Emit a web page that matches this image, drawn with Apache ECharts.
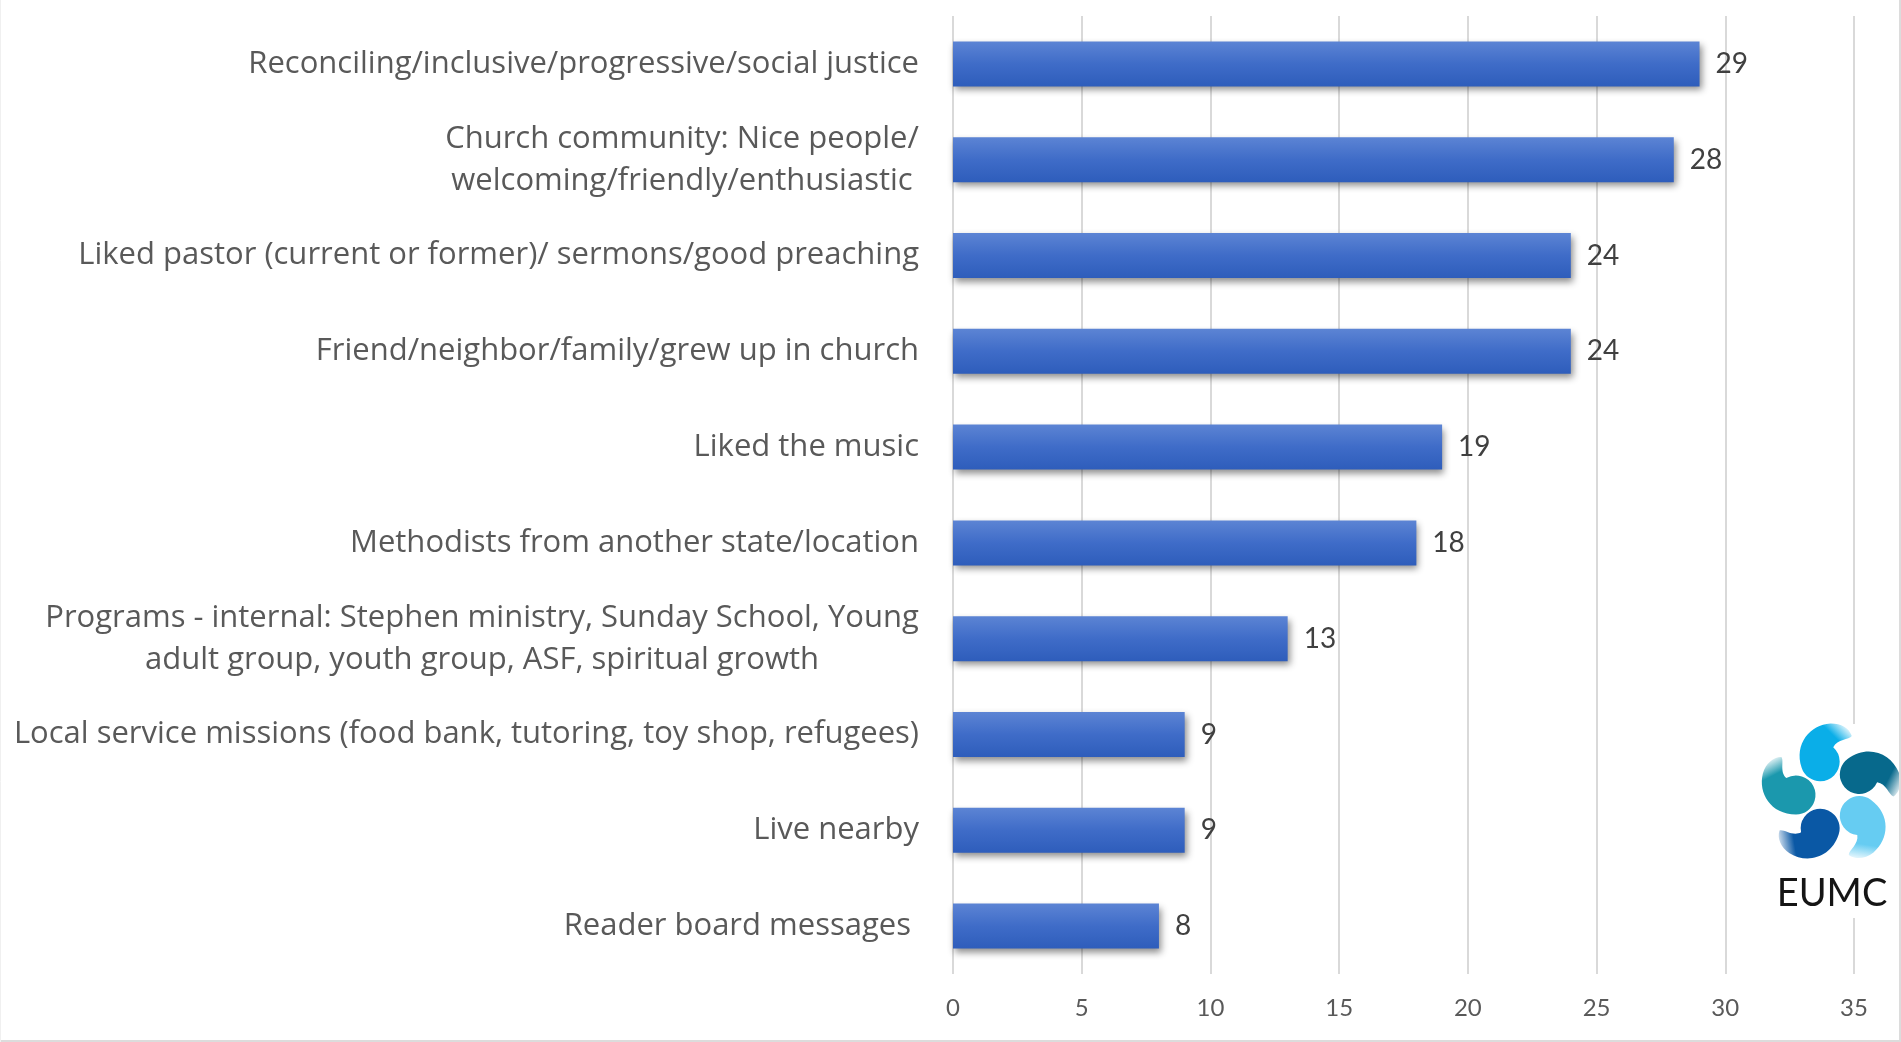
<!DOCTYPE html>
<html>
<head>
<meta charset="utf-8">
<script src="https://cdn.jsdelivr.net/npm/echarts@6/dist/echarts.min.js"></script>
<style>
html,body{margin:0;padding:0;background:#fff;}
#chart{width:1901px;height:1042px;}
</style>
</head>
<body>
<div id="chart"></div>
<script>
const categories = [
  "Reconciling/inclusive/progressive/social justice",
  "Church community: Nice people/\nwelcoming/friendly/enthusiastic",
  "Liked pastor (current or former)/ sermons/good preaching",
  "Friend/neighbor/family/grew up in church",
  "Liked the music",
  "Methodists from another state/location",
  "Programs - internal: Stephen ministry, Sunday School, Young\nadult group, youth group, ASF, spiritual growth",
  "Local service missions (food bank, tutoring, toy shop, refugees)",
  "Live nearby",
  "Reader board messages "
];
const values = [29, 28, 24, 24, 19, 18, 13, 9, 9, 8];
const xTicks = [0, 5, 10, 15, 20, 25, 30, 35];

const FONT = 'Lato';
const CAT_FONT = 'Open Sans';
const catSize = 31;

// measure for centered multi-line labels
const cv = document.createElement('canvas').getContext('2d');
cv.font = catSize + 'px "' + CAT_FONT + '"';
const rich = {};
categories.forEach((c, i) => {
  if (c.indexOf('\n') >= 0) {
    const w = Math.max(...c.split('\n').map(s => cv.measureText(s).width));
    rich['m' + i] = { width: Math.ceil(w), align: 'center', fontSize: catSize, fontFamily: CAT_FONT, color: '#595959', lineHeight: 42 };
  }
});

// comma-shaped logo element (head circle + thick sweeping tail)
echarts.graphic.registerShape('comma', echarts.graphic.extendShape({
  shape: { cx: 0, cy: 0, r: 10, a: 0 },
  buildPath: function (ctx, s) {
    const ca = Math.cos(s.a), sa = Math.sin(s.a), R = s.r;
    const tr = (x, y) => [s.cx + (x * ca - y * sa) * R, s.cy + (x * sa + y * ca) * R];
    const a0 = Math.atan2(0.301, 0.954);
    const a1 = Math.atan2(-0.5, 0.866);
    const p0 = tr(0.954, 0.301);
    ctx.moveTo(p0[0], p0[1]);
    ctx.arc(s.cx, s.cy, R, a0 + s.a, Math.PI + s.a, false);
    let c1 = tr(-1, -1.3), c2 = tr(0.1, -1.95), t = tr(1.1, -1.7);
    ctx.bezierCurveTo(c1[0], c1[1], c2[0], c2[1], t[0], t[1]);
    c1 = tr(1.6, -1.55); c2 = tr(1.95, -1.2); t = tr(1.95, -0.75);
    ctx.bezierCurveTo(c1[0], c1[1], c2[0], c2[1], t[0], t[1]);
    c1 = tr(1.75, -0.6); c2 = tr(1.2, -0.85); t = tr(0.866, -0.5);
    ctx.bezierCurveTo(c1[0], c1[1], c2[0], c2[1], t[0], t[1]);
    ctx.arc(s.cx, s.cy, R, a1 + s.a, a0 + s.a, false);
    ctx.closePath();
  }
}));

const lc = [1831, 795];
const blobColors = [
  [-108, '#0aaee8', 'rgba(10,174,232,0.15)'],
  [-36, '#07698c', 'rgba(7,105,140,0.15)'],
  [36, '#66ccf2', 'rgba(102,204,242,0.15)'],
  [108, '#0a58a5', 'rgba(10,88,165,0.2)'],
  [180, '#1b98ad', 'rgba(27,152,173,0.15)']
];
const blobs = blobColors.map(b => {
  const ph = b[0] * Math.PI / 180;
  const R = 19.5, a = ph + Math.PI / 2;
  const cx = lc[0] + 35 * Math.cos(ph), cy = lc[1] + 35 * Math.sin(ph);
  const ca = Math.cos(a), sa = Math.sin(a);
  const tip = [cx + (1.95 * ca + 1.0 * sa) * R, cy + (1.95 * sa - 1.0 * ca) * R];
  return {
    type: 'comma',
    shape: { cx: cx, cy: cy, r: R, a: a },
    style: {
      fill: new echarts.graphic.LinearGradient(cx, cy, tip[0], tip[1], [
        { offset: 0, color: b[1] }, { offset: 0.65, color: b[1] }, { offset: 1, color: b[2] }
      ], true)
    },
    z: 101
  };
});

const chart = echarts.init(document.getElementById('chart'));

chart.setOption({
  backgroundColor: '#ffffff',
  animation: false,
  grid: { left: 953, right: 47, top: 16, bottom: 68, containLabel: false },
  xAxis: {
    type: 'value', min: 0, max: 35, interval: 5,
    axisLine: { show: false }, axisTick: { show: false },
    splitLine: { show: true, lineStyle: { color: '#d9d9d9', width: 2 } },
    axisLabel: { color: '#595959', fontSize: 24, fontFamily: FONT, margin: 22,
      formatter: v => xTicks.indexOf(v) >= 0 ? String(v) : '' }
  },
  yAxis: {
    type: 'category', inverse: true, data: categories,
    axisLine: { show: false }, axisTick: { show: false }, splitLine: { show: false },
    axisLabel: {
      color: '#595959', fontSize: catSize, fontFamily: CAT_FONT, margin: 34, lineHeight: 42,
      formatter: (v, i) => {
        if (v.indexOf('\n') >= 0) return v.split('\n').map(s => '{m' + i + '|' + s + '}').join('\n');
        return v;
      },
      rich: rich
    }
  },
  series: [{
    type: 'bar', data: values, barWidth: 45,
    itemStyle: {
      color: new echarts.graphic.LinearGradient(0, 0, 0, 1, [
        { offset: 0, color: '#5c84d4' },
        { offset: 0.5, color: '#3f6cc8' },
        { offset: 1, color: '#2e5dbb' }
      ]),
      shadowColor: 'rgba(0,0,0,0.45)', shadowBlur: 7, shadowOffsetX: 2, shadowOffsetY: 4
    },
    label: { show: true, position: 'right', distance: 16, color: '#404040', fontSize: 28, fontFamily: FONT }
  }],
  graphic: [
    { type: 'rect', shape: { x: 1758, y: 724, width: 143, height: 194 }, style: { fill: '#ffffff' }, z: 100 },
    ...blobs,
    { type: 'text', x: 1832, y: 894, style: { text: 'EUMC', fill: '#151515', fontSize: 38, fontFamily: FONT, textAlign: 'center', textVerticalAlign: 'middle' }, z: 102 },
    { type: 'line', shape: { x1: 0, y1: 1041, x2: 1901, y2: 1041 }, style: { stroke: '#dcdcdc', lineWidth: 2 }, z: 110 },
    { type: 'line', shape: { x1: 1900, y1: 0, x2: 1900, y2: 1042 }, style: { stroke: '#dcdcdc', lineWidth: 2 }, z: 110 },
    { type: 'line', shape: { x1: 0.5, y1: 0, x2: 0.5, y2: 1042 }, style: { stroke: '#f0f0f0', lineWidth: 1 }, z: 110 }
  ]
});
</script>
</body>
</html>
